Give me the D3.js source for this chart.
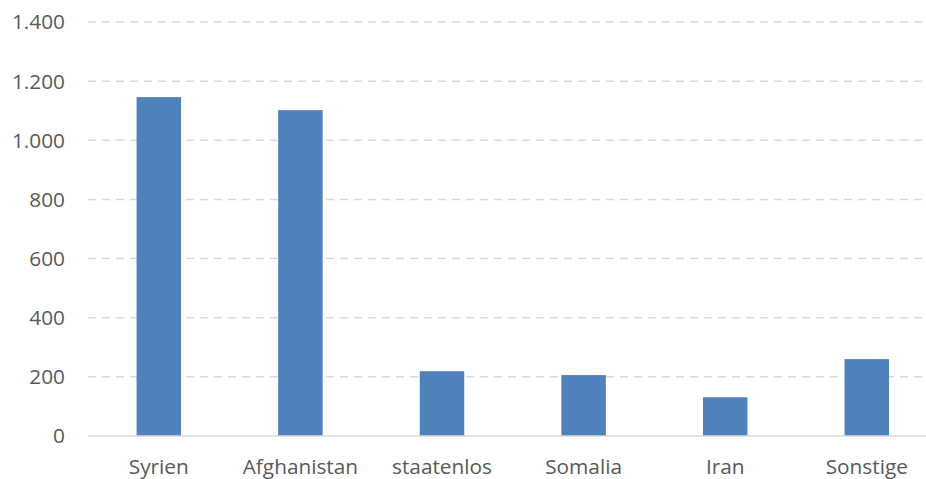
<!DOCTYPE html>
<html>
<head>
<meta charset="utf-8">
<script src="https://cdn.jsdelivr.net/npm/d3@7"></script>
<style>
  body { margin: 0; background: #fff; }
  svg { display: block; }
  text { font-family: "Open Sans", "Liberation Sans", sans-serif; fill: #595959; }
</style>
</head>
<body>
<div id="chart"></div>
<script>
const categories = ["Syrien", "Afghanistan", "staatenlos", "Somalia", "Iran", "Sonstige"];
const values = [1146, 1102, 219, 206, 131, 260];
const yTicks = [0, 200, 400, 600, 800, 1000, 1200, 1400];

const width = 926;
const height = 479;

const svg = d3.select("#chart").append("svg")
  .attr("width", width)
  .attr("height", height);

// plot area runs past the right edge, like the original crop
const x = d3.scaleBand()
  .domain(categories)
  .range([88, 937.6])
  .paddingInner(0.686)
  .paddingOuter(0.343);

const y = d3.scaleLinear()
  .domain([0, 1400])
  .range([436, 22]);

const fmt = d => d3.format(",")(d).replace(/,/g, ".");

// gridlines
svg.append("g")
  .selectAll("line")
  .data(yTicks.filter(d => d > 0))
  .join("line")
    .attr("x1", 88)
    .attr("x2", width)
    .attr("y1", d => y(d))
    .attr("y2", d => y(d))
    .attr("stroke", "#d9d9d9")
    .attr("stroke-width", 1.5)
    .attr("stroke-dasharray", "8,6");

// y labels
svg.append("g")
  .selectAll("text")
  .data(yTicks)
  .join("text")
    .attr("x", 65)
    .attr("y", d => y(d))
    .attr("dy", "0.36em")
    .attr("text-anchor", "end")
    .attr("font-size", 20.8)
    .text(d => fmt(d));

// bars
svg.append("g")
  .selectAll("rect")
  .data(values)
  .join("rect")
    .attr("x", (d, i) => x(categories[i]))
    .attr("y", d => y(d))
    .attr("width", x.bandwidth())
    .attr("height", d => y(0) - y(d))
    .attr("fill", "#4f81bd");

// baseline
svg.append("line")
  .attr("x1", 88)
  .attr("x2", width)
  .attr("y1", y(0))
  .attr("y2", y(0))
  .attr("stroke", "#d9d9d9")
  .attr("stroke-width", 1.5);

// x labels
svg.append("g")
  .selectAll("text")
  .data(categories)
  .join("text")
    .attr("x", d => x(d) + x.bandwidth() / 2)
    .attr("y", 474)
    .attr("text-anchor", "middle")
    .attr("font-size", 20.8)
    .text(d => d);
</script>
</body>
</html>
